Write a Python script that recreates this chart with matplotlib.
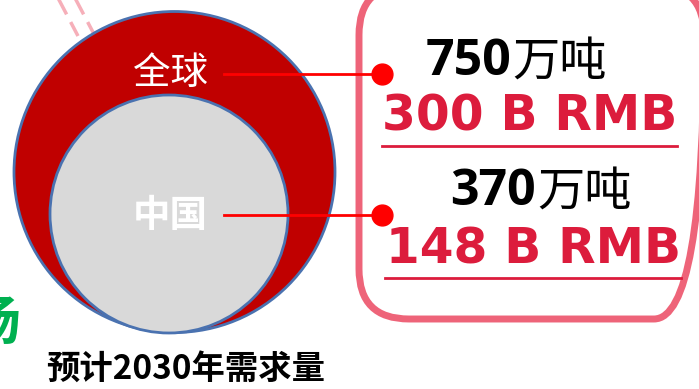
import matplotlib
matplotlib.use("Agg")
import matplotlib.pyplot as plt
from matplotlib.patches import Circle, FancyBboxPatch

plt.rcParams['font.family'] = ['Noto Sans CJK SC', 'DejaVu Sans']

# ---- data ----
regions = ['全球', '中国']
tonnage = ['750', '370']          # 万吨
tonnage_unit = '万吨'
market_value = ['300 B RMB', '148 B RMB']
caption = '预计2030年需求量'
side_text = '场'

W, H = 699, 389
fig = plt.figure(figsize=(W / 100, H / 100), dpi=100)
ax = fig.add_axes([0, 0, 1, 1])
ax.set_xlim(0, W)
ax.set_ylim(H, 0)
ax.set_aspect('equal')
ax.axis('off')

edge_blue = '#4A72B0'
# dashed pink lines at top-left
for x0 in (58, 75):
    ax.plot([x0, x0 + 20], [-2, 36], color='#F6AFB9', lw=2.5, ls=(0, (5, 2.5)), zorder=1)

# circles
outer = Circle((174.5, 172), 160.5, facecolor='#C00000', edgecolor=edge_blue, lw=2, zorder=2)
inner = Circle((169, 214), 119, facecolor='#D9D9D9', edgecolor=edge_blue, lw=2, zorder=3)
ax.add_patch(outer)
ax.add_patch(inner)

# rounded box
box = FancyBboxPatch((359, -15), 345, 334, boxstyle='round,pad=0,rounding_size=50',
                     facecolor='none', edgecolor='#EE6479', lw=5, zorder=4)
ax.add_patch(box)

label_y = [73, 215]
dot_y = [74, 215]
weights = ['normal', 'bold']
for i, name in enumerate(regions):
    ax.text(170, label_y[i], name, color='white', fontsize=27, fontweight=weights[i],
            ha='center', va='center', zorder=6)
    ax.plot([224, 382], [dot_y[i], dot_y[i]], color='#FF0000', lw=2, zorder=5)
    ax.plot([382], [dot_y[i]], 'o', color='#FF0000', ms=15, zorder=7)

# right-side texts
num_split_x = [511, 536]
num_y = [62, 192]
val_x = [530, 534]
val_y = [116, 249]
ul_y = [146, 278]
ul_x = [(382, 677), (385, 681)]
for i in range(2):
    ax.text(num_split_x[i], num_y[i], tonnage[i], fontsize=36, fontweight='bold', color='black',
            ha='right', va='center', family=['Open Sans', 'DejaVu Sans'], zorder=6)
    ax.text(num_split_x[i] + 1, num_y[i], tonnage_unit, fontsize=34, color='black',
            ha='left', va='center', zorder=6)
    ax.text(val_x[i], val_y[i], market_value[i], fontsize=35, fontweight='bold', color='#DC1C3C',
            ha='center', va='center', family=['DejaVu Sans'], zorder=6)
    ax.plot(ul_x[i], [ul_y[i], ul_y[i]], color='#DC1C3C', lw=2, zorder=6)

# caption
ax.text(186, 369, caption, fontsize=24, fontweight='bold', color='black',
        ha='center', va='center', zorder=6)
# partially visible green character at the left edge
ax.text(20, 323, side_text, fontsize=38, fontweight='bold', color='#00B050',
        ha='right', va='center', zorder=6)

fig.savefig('out.png', dpi=100)
